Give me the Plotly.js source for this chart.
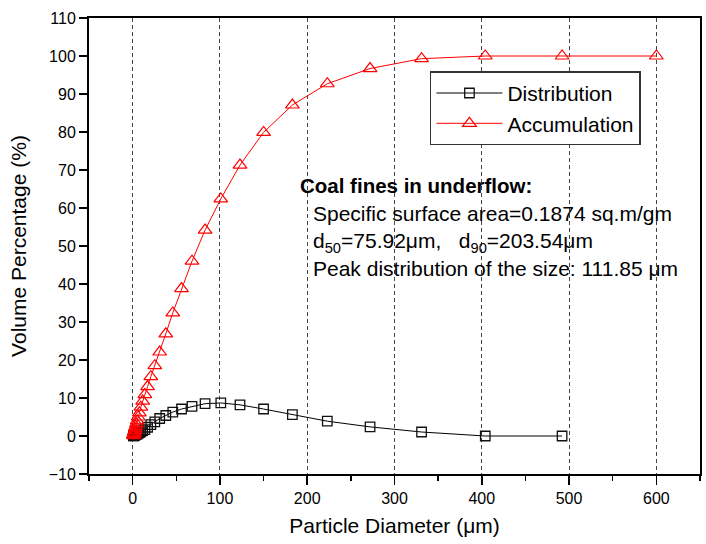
<!DOCTYPE html>
<html>
<head>
<meta charset="utf-8">
<script src="https://cdn.plot.ly/plotly-3.0.1.min.js"></script>
<style>
  html, body { margin: 0; padding: 0; background: #ffffff; }
  #chart { width: 706px; height: 544px; }
</style>
</head>
<body>
<div id="chart"></div>
<script>
// Particle diameters (μm)
const diameters = [0.9, 1.1, 1.3, 1.6, 1.9, 2.4, 2.9, 3.5, 4.3, 5.2, 6.3, 7.7, 9.4, 11.5, 14, 17.1, 20.8, 25.4, 31, 38, 46, 56, 68, 83, 101, 123, 150, 183, 223, 272, 331, 404, 492, 600];
// Distribution (%) – drawn up to 492 μm
const distributionX = diameters.slice(0, 33);
const distribution = [0.03, 0.06, 0.1, 0.15, 0.2, 0.25, 0.3, 0.35, 0.45, 0.55, 0.7, 0.9, 1.1, 1.4, 1.7, 2.3, 3.0, 3.7, 4.6, 5.4, 6.3, 7.1, 7.8, 8.5, 8.7, 8.2, 7.1, 5.6, 3.9, 2.4, 1.05, 0, 0];
// Accumulation (%)
const accumulation = [0.1, 0.2, 0.4, 0.7, 1.0, 1.4, 1.9, 2.5, 3.2, 4.0, 5.0, 6.1, 7.6, 9.2, 10.9, 13.0, 15.6, 18.5, 22.1, 26.9, 32.4, 38.8, 46.0, 54.2, 62.4, 71.3, 79.9, 87.1, 92.7, 96.7, 99.3, 100, 100, 100];

const seriesNames = ['Distribution', 'Accumulation'];
const xTitle = 'Particle Diameter (\u03bcm)';
const yTitle = 'Volume Percentage (%)';
const noteTitle = '<b>Coal fines in underflow:</b>';
const noteLines = [
  'Specific surface area=0.1874 sq.m/gm',
  'd<sub>50</sub>=75.92\u03bcm,\u00a0\u00a0\u00a0d<sub>90</sub>=203.54\u03bcm',
  'Peak distribution of the size: 111.85 \u03bcm'
];

const FONT = 'Liberation Sans, Arial, Helvetica, sans-serif';

const traces = [
  {
    x: distributionX, y: distribution, name: seriesNames[0],
    type: 'scatter', mode: 'lines+markers',
    line: { color: '#000000', width: 1 },
    marker: { symbol: 'square-open', size: 9.5, color: '#111111', line: { width: 1.3 } }
  },
  {
    x: diameters, y: accumulation, name: seriesNames[1],
    type: 'scatter', mode: 'lines+markers',
    line: { color: '#ff0000', width: 1 },
    marker: { symbol: 'triangle-up-open', size: 12, color: '#ff0000', line: { width: 1.2 } }
  }
];

const layout = {
  width: 706, height: 544,
  margin: { l: 89, r: 6, t: 18, b: 70, pad: 0 },
  paper_bgcolor: '#ffffff', plot_bgcolor: '#ffffff',
  font: { family: FONT, color: '#000000', size: 16 },
  showlegend: true,
  xaxis: {
    range: [-50, 650], tick0: 0, dtick: 100,
    ticks: 'outside', ticklen: 9, tickwidth: 1.5, tickcolor: '#000',
    minor: { dtick: 50, ticks: 'outside', ticklen: 5, tickwidth: 1.5, tickcolor: '#000', showgrid: false },
    showgrid: true, gridcolor: '#444', gridwidth: 1, griddash: '4px,3px',
    zeroline: false, showline: true, linecolor: '#000', linewidth: 2, mirror: true,
    tickfont: { family: FONT, size: 16, color: '#000' },
    title: { text: xTitle, font: { family: FONT, size: 21, color: '#000' }, standoff: 12 }
  },
  yaxis: {
    range: [-10, 110], tick0: 0, dtick: 10,
    ticks: 'outside', ticklen: 8, tickwidth: 1.5, tickcolor: '#000',
    showgrid: false, zeroline: false,
    showline: true, linecolor: '#000', linewidth: 2, mirror: true,
    tickfont: { family: FONT, size: 16, color: '#000' },
    title: { text: yTitle, font: { family: FONT, size: 21, color: '#000' }, standoff: 16 }
  },
  yaxis2: {
    overlaying: 'y', range: [-10, 110],
    tickvals: [0, 20, 40, 60, 80, 100],
    showgrid: true, gridcolor: '#333', gridwidth: 1, griddash: '4px,3px',
    showticklabels: false, ticks: '', showline: false, zeroline: false
  },
  legend: {
    x: 0.558, y: 0.883, xanchor: 'left', yanchor: 'top',
    bgcolor: '#ffffff', bordercolor: '#333', borderwidth: 1.5,
    font: { family: FONT, size: 21, color: '#000' },
    itemwidth: 66,
    tracegroupgap: 0
  },
  annotations: [
    {
      xref: 'x', yref: 'y', x: 189.5, y: 65.8, xanchor: 'left', yanchor: 'middle',
      text: noteTitle, showarrow: false, align: 'left',
      font: { family: FONT, size: 20.5, color: '#000' }
    },
    {
      xref: 'x', yref: 'y', x: 204.4, y: 51.3, xanchor: 'left', yanchor: 'middle',
      text: noteLines.join('<br>'), showarrow: false, align: 'left',
      font: { family: FONT, size: 21, color: '#000' }
    }
  ]
};

Plotly.newPlot('chart', traces, layout, { staticPlot: true, displayModeBar: false });
</script>
</body>
</html>
